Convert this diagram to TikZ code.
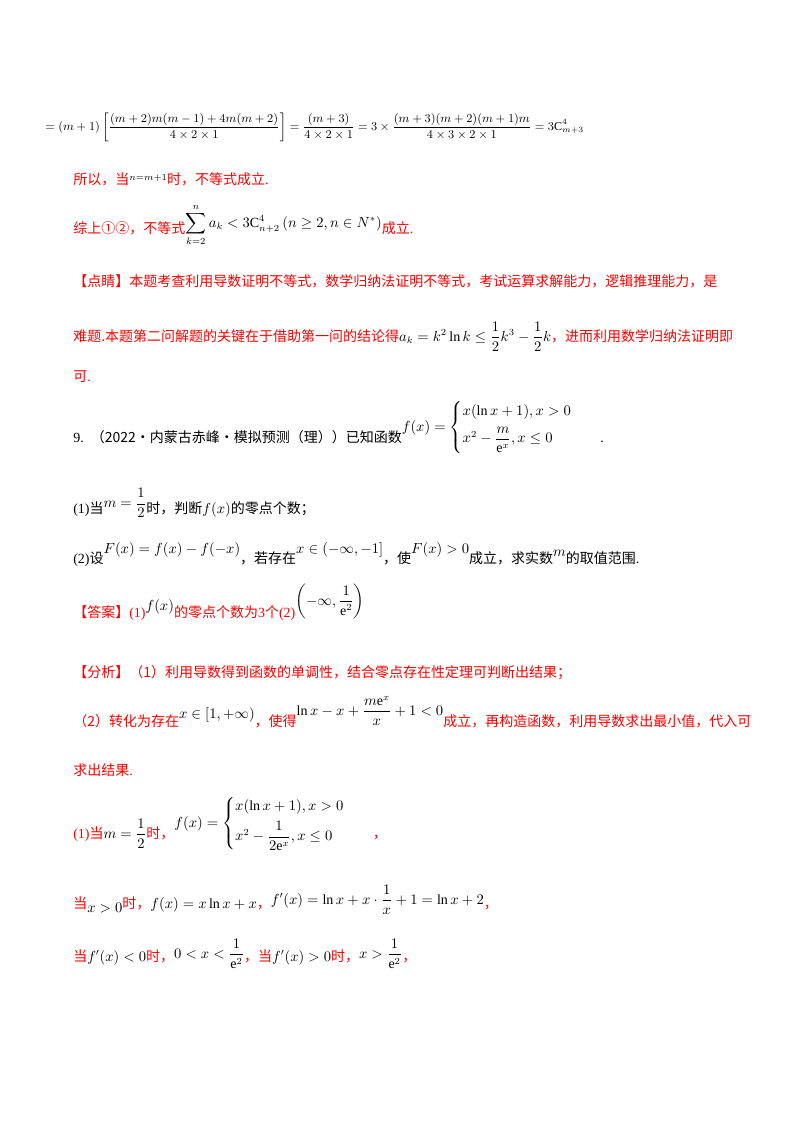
\documentclass[tikz,border=0pt]{standalone}
\usepackage{amsmath}
\usepackage{fontspec}
\setmainfont{Liberation Serif}
\newfontfamily\cjk{Noto Sans CJK SC}
\newcommand{\zh}[1]{{\cjk #1}}
\definecolor{rd}{RGB}{255,0,0}
\begin{document}
\begin{tikzpicture}[x=0.75pt,y=-0.75pt,
  ln/.style={anchor=base west,inner sep=0pt,font=\fontsize{10.5pt}{12pt}\selectfont},
  red/.style={ln,text=rd}]
\useasboundingbox (0,0) rectangle (800,1132);
\node[ln,font=\fontsize{9pt}{11pt}\selectfont] (l1) at (45,130) {$=(m+1)\left[\dfrac{(m+2)m(m-1)+4m(m+2)}{4\times2\times1}\right]=\dfrac{(m+3)}{4\times2\times1}=3\times\dfrac{(m+3)(m+2)(m+1)m}{4\times3\times2\times1}=3\mathrm{C}_{m+3}^{4}$};
\node[red] (l2) at (73,184) {\zh{所以，当}\raisebox{3pt}{\color{black}$\scriptstyle n=m+1$}\zh{时，不等式成立}.};
\node[red] (l3) at (73,233) {\zh{综上①②，不等式}\raisebox{4pt}{\color{black}$\displaystyle\sum_{k=2}^{n}a_k<3\mathrm{C}_{n+2}^{4}\left(n\ge2,n\in N^{*}\right)$}\zh{成立}.};
\node[red] (l4) at (73,286) {\zh{【点睛】本题考查利用导数证明不等式，数学归纳法证明不等式，考试运算求解能力，逻辑推理能力，是}};
\node[red] (l5) at (73,341) {\zh{难题.本题第二问解题的关键在于借助第一问的结论得}{\color{black}$a_k=k^2\ln k\le\dfrac12k^3-\dfrac12k$}\zh{，进而利用数学归纳法证明即}};
\node[red] (l6) at (73,381) {\zh{可}.};
\node[ln] (l7) at (73,442) {9.\enspace\zh{（2022·内蒙古赤峰·模拟预测（理））已知函数}\raisebox{8pt}{$f(x)=\begin{cases}x(\ln x+1),x>0\\[4pt] x^2-\dfrac{m}{\mathrm{e}^x},x\le0\end{cases}$}\quad.};
\node[ln] (l8) at (73,513) {(1)\zh{当}\raisebox{4pt}{$m=\dfrac12$}\zh{时，判断}$f(x)$\zh{的零点个数；}};
\node[ln] (l9) at (73,563) {(2)\zh{设}\raisebox{7pt}{$F(x)=f(x)-f(-x)$}\zh{，若存在}\raisebox{7pt}{$x\in(-\infty,-1]$}\zh{，使}\raisebox{7pt}{$F(x)>0$}\zh{成立，求实数}\raisebox{5pt}{$m$}\zh{的取值范围}.};
\node[red] (l10) at (73,617) {\zh{【答案】}(1)\raisebox{5pt}{\color{black}$f(x)$}\zh{的零点个数为}3\zh{个}(2)\raisebox{9pt}{\color{black}$\left(-\infty,\dfrac{1}{\mathrm{e}^2}\right)$}};
\node[red] (l11) at (73,677) {\zh{【分析】（1）利用导数得到函数的单调性，结合零点存在性定理可判断出结果；}};
\node[red] (l12) at (73,726) {\zh{（2）转化为存在}\raisebox{6pt}{\color{black}$x\in[1,+\infty)$}\zh{，使得}\raisebox{8pt}{\color{black}$\ln x-x+\dfrac{m\mathrm{e}^x}{x}+1<0$}\zh{成立，再构造函数，利用导数求出最小值，代入可}};
\node[red] (l13) at (73,775) {\zh{求出结果}.};
\node[red] (l14) at (73,838) {(1)\zh{当}{\color{black}$m=\dfrac12$}\zh{时，}\raisebox{8pt}{\color{black}$f(x)=\begin{cases}x(\ln x+1),x>0\\[4pt] x^2-\dfrac{1}{2\mathrm{e}^x},x\le0\end{cases}$}\quad\zh{，}};
\node[red] (l15) at (73,908) {\zh{当}\raisebox{-3pt}{\color{black}$x>0$}\zh{时，}{\color{black}$f(x)=x\ln x+x$}\zh{，}\raisebox{3pt}{\color{black}$f'(x)=\ln x+x\cdot\dfrac1x+1=\ln x+2$}\zh{，}};
\node[red] (l16) at (73,961) {\zh{当}{\color{black}$f'(x)<0$}\zh{时，}\raisebox{2pt}{\color{black}$0<x<\dfrac{1}{\mathrm{e}^2}$}\zh{，当}{\color{black}$f'(x)>0$}\zh{时，}\raisebox{2pt}{\color{black}$x>\dfrac{1}{\mathrm{e}^2}$}\zh{，}};
\end{tikzpicture}
\end{document}
